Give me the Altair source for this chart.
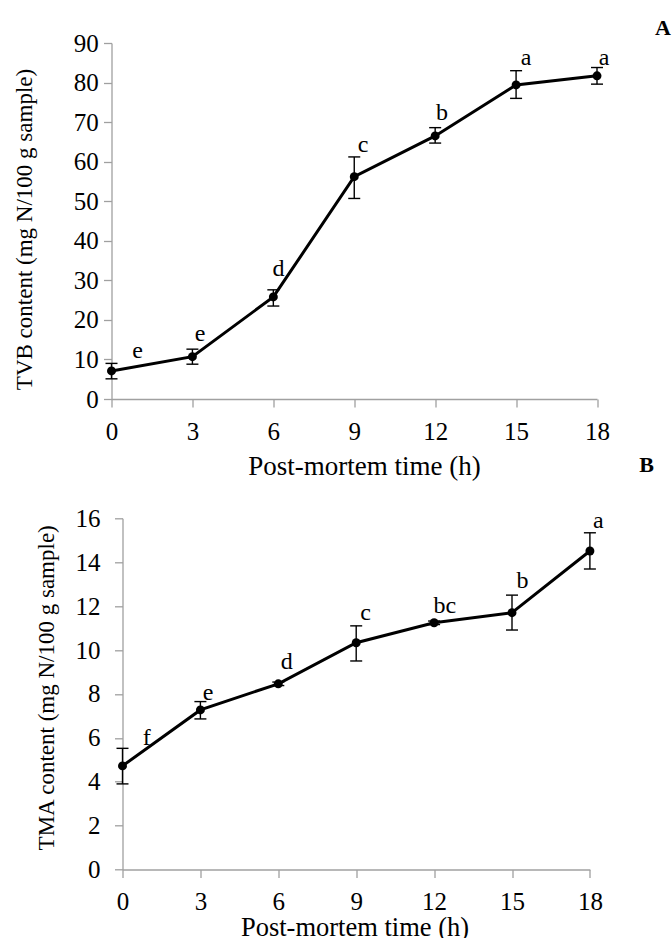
import altair as alt
import pandas as pd

# ---------------- data ----------------
hours = [0, 3, 6, 9, 12, 15, 18]

tvb_mean = [7.1, 10.7, 25.8, 56.2, 66.5, 79.4, 81.7]
tvb_lo = [5.1, 8.8, 23.5, 50.7, 64.7, 76.0, 79.6]
tvb_hi = [9.0, 12.6, 27.6, 61.2, 68.6, 83.0, 83.8]
tvb_letters = ["e", "e", "d", "c", "b", "a", "a"]
tvb_lbl_x = [0.97, 3.28, 6.19, 9.33, 12.25, 15.37, 18.26]
tvb_lbl_y = [12.2, 16.4, 32.9, 64.2, 72.2, 86.1, 86.1]

tma_mean = [4.72, 7.27, 8.46, 10.33, 11.24, 11.7, 14.51]
tma_lo = [3.9, 6.86, 8.38, 9.5, 11.16, 10.91, 13.69]
tma_hi = [5.52, 7.65, 8.54, 11.1, 11.32, 12.5, 15.34]
tma_letters = ["f", "e", "d", "c", "bc", "b", "a"]
tma_lbl_x = [0.93, 3.30, 6.33, 9.36, 12.41, 15.4, 18.32]
tma_lbl_y = [5.98, 8.05, 9.47, 11.7, 12.0, 13.14, 15.89]

x_ticks = [0, 3, 6, 9, 12, 15, 18]
tvb_ticks = [0, 10, 20, 30, 40, 50, 60, 70, 80, 90]
tma_ticks = [0, 2, 4, 6, 8, 10, 12, 14, 16]

x_title = "Post-mortem time (h)"
tvb_title = "TVB content (mg N/100 g sample)"
tma_title = "TMA content (mg N/100 g sample)"

FONT = "Liberation Serif"
AX = "#a0a0a0"


def panel(mean, lo, hi, letters, lx, ly, yticks, ytitle, w, h, letter_panel,
          ylabpad, ytx, yty, xlabpad, xtx, xty, xtfs, pdx, poff, pdy):
    df = pd.DataFrame({"h": hours, "m": mean, "lo": lo, "hi": hi,
                       "lab": letters, "lx": lx, "ly": ly})
    xs = alt.Scale(domain=[0, 18], nice=False, zero=False)
    ys = alt.Scale(domain=[yticks[0], yticks[-1]], nice=False)
    xax = alt.Axis(values=x_ticks, title=x_title, labelPadding=xlabpad,
                   labelBaseline="middle", titleX=xtx, titleY=xty,
                   titleBaseline="middle", titleAlign="center",
                   titleFontSize=xtfs)
    yax = alt.Axis(values=yticks, title=ytitle, labelPadding=ylabpad,
                   titleX=ytx, titleY=yty, titleBaseline="middle",
                   titleAlign="center", titleAngle=270, titleFontSize=23)

    def X(f):
        return alt.X(f, type="quantitative", scale=xs, axis=xax)

    def Y(f):
        return alt.Y(f, type="quantitative", scale=ys, axis=yax)

    base = alt.Chart(df)
    line = base.mark_line(color="black", strokeWidth=3).encode(x=X("h"), y=Y("m"))
    bars = base.mark_rule(color="black", strokeWidth=1.4).encode(
        x=X("h"), y=Y("lo"), y2="hi:Q")
    cap_hi = base.mark_tick(color="black", orient="horizontal", size=12,
                            thickness=1.4, opacity=1).encode(x=X("h"), y=Y("hi"))
    cap_lo = base.mark_tick(color="black", orient="horizontal", size=12,
                            thickness=1.4, opacity=1).encode(x=X("h"), y=Y("lo"))
    pts = base.mark_circle(color="black", size=80, opacity=1).encode(
        x=X("h"), y=Y("m"))
    txt = base.mark_text(font=FONT, fontSize=24, color="black",
                         baseline="middle", align="center").encode(
        x=X("lx"), y=Y("ly"), text="lab:N")
    return alt.layer(line, bars, cap_hi, cap_lo, pts, txt).properties(
        width=w, height=h,
        title=alt.TitleParams(text=letter_panel, anchor="end", frame="group",
                              dx=pdx, dy=pdy, offset=poff, font=FONT,
                              fontSize=22, fontWeight="bold", color="black",
                              baseline="alphabetic"),
    )


top = panel(tvb_mean, tvb_lo, tvb_hi, tvb_letters, tvb_lbl_x, tvb_lbl_y,
            tvb_ticks, tvb_title, 485.5, 356, "A",
            ylabpad=5.2, ytx=-87.5, yty=186, xlabpad=24.7, xtx=252.5,
            xty=67.7, xtfs=27, pdx=74, poff=-15, pdy=11)

bottom = panel(tma_mean, tma_lo, tma_hi, tma_letters, tma_lbl_x, tma_lbl_y,
               tma_ticks, tma_title, 467.4, 351.2, "B",
               ylabpad=14.6, ytx=-76, yty=169, xlabpad=23.5, xtx=232,
               xty=58, xtfs=26.5, pdx=64, poff=40, pdy=28)

spacer = alt.Chart(pd.DataFrame({"v": [0]})).mark_point(opacity=0).encode(
    x=alt.X("v:Q", axis=None), y=alt.Y("v:Q", axis=None)
).properties(width=1, height=1)

bottom_row = alt.hconcat(spacer, bottom, spacing=10, bounds="flush")

chart = alt.vconcat(top, bottom_row, spacing=119.3, bounds="flush").properties(
    autosize=alt.AutoSizeParams(type="none"),
    padding={"left": 111.5, "top": 43, "right": 560.5, "bottom": 895},
    background="white",
).configure_view(stroke=None).configure_axis(
    grid=False, domainColor=AX, tickColor=AX, domainWidth=1.3, tickWidth=1.3,
    tickSize=8, labelFont=FONT, labelFontSize=25, labelColor="black",
    titleFont=FONT, titleFontWeight="normal",
    titleColor="black", labelFlush=False, labelOverlap=False,
)

chart.save("out.html", embed_options={"renderer": "svg", "actions": False})
